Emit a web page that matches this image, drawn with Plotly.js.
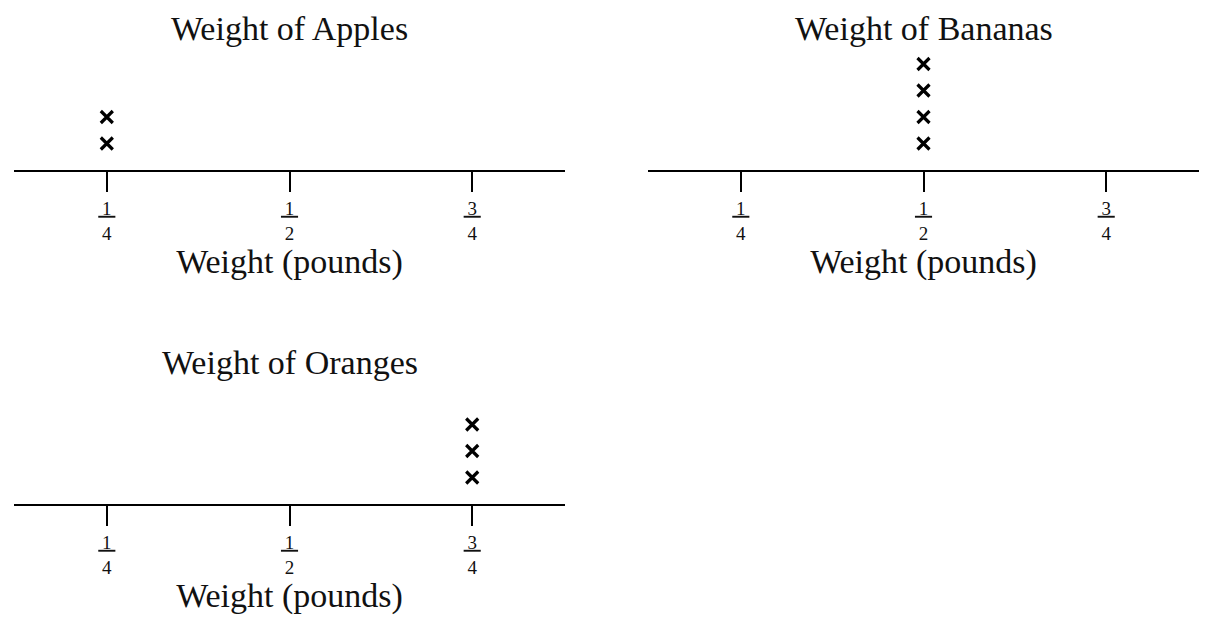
<!DOCTYPE html>
<html><head><meta charset="utf-8">
<script src="https://cdn.plot.ly/plotly-3.0.1.min.js"></script>
<style>html,body{margin:0;padding:0;background:#fff}#chart{width:1213px;height:626px}</style>
</head><body><div id="chart"></div>
<script>
// ---- data ----
const plotTitles = ['Weight of Apples', 'Weight of Bananas', 'Weight of Oranges'];
const appleWeights = [0.25, 0.25];
const bananaWeights = [0.5, 0.5, 0.5, 0.5];
const orangeWeights = [0.75, 0.75, 0.75];
const tickValues = [0.25, 0.5, 0.75];
const tickNumerators = ['1', '1', '3'];
const tickDenominators = ['4', '2', '4'];
const axisTitle = 'Weight (pounds)';

// ---- presentation ----
const W = 1213, H = 626;
const FONT = 'Liberation Serif, Times New Roman, serif';
const tickText = tickNumerators.map((n, i) =>
  '<span style="text-decoration:underline;text-decoration-thickness:2px;text-underline-offset:3px">&#8201;' + n + '&#8201;</span><br>' + tickDenominators[i]);

// stack repeated values as a dot plot: y = occurrence count
function stack(values) {
  const seen = {};
  return values.map(v => { seen[v] = (seen[v] || 0) + 1; return seen[v]; });
}

const series = [appleWeights, bananaWeights, orangeWeights];
const traces = series.map((vals, i) => ({
  type: 'scatter', mode: 'markers',
  x: vals, y: stack(vals),
  xaxis: i === 0 ? 'x' : 'x' + (i + 1),
  yaxis: i === 0 ? 'y' : 'y' + (i + 1),
  marker: { symbol: 'x-thin', size: 12, color: '#000', line: { width: 3.2, color: '#000' } },
  hoverinfo: 'x+y', showlegend: false
}));

const px = p => p / W;
const py = p => 1 - p / H;
// panel pixel boxes: [left, right, top, axisY]
const panels = [[14, 565, 50, 170], [648, 1199, 50, 170], [14, 565, 384, 504]];

function xaxisDef(b, anchor) {
  return {
    domain: [px(b[0]), px(b[1])], anchor: anchor,
    range: [0.123, 0.877],
    tickmode: 'array', tickvals: tickValues, ticktext: tickText,
    ticks: 'outside', ticklen: 20, tickwidth: 2, tickcolor: '#000',
    showline: true, linewidth: 2, linecolor: '#000',
    showgrid: false, zeroline: false,
    tickfont: { family: FONT, size: 19, color: '#111' },
    title: { text: axisTitle, font: { family: FONT, size: 34, color: '#111' }, standoff: 0 },
    automargin: true, fixedrange: true
  };
}
function yaxisDef(b, anchor) {
  return {
    domain: [py(b[3]), py(b[2])], anchor: anchor,
    range: [0, (b[3] - b[2]) / 26.5],
    visible: false, showgrid: false, zeroline: false, fixedrange: true
  };
}

const layout = {
  width: W, height: H,
  margin: { l: 0, r: 0, t: 0, b: 0 },
  paper_bgcolor: '#fff', plot_bgcolor: '#fff',
  xaxis: xaxisDef(panels[0], 'y'), yaxis: yaxisDef(panels[0], 'x'),
  xaxis2: xaxisDef(panels[1], 'y2'), yaxis2: yaxisDef(panels[1], 'x2'),
  xaxis3: xaxisDef(panels[2], 'y3'), yaxis3: yaxisDef(panels[2], 'x3'),
  annotations: plotTitles.map((t, i) => ({
    text: t, xref: 'paper', yref: 'paper',
    x: px((panels[i][0] + panels[i][1]) / 2), y: py(panels[i][3] - 142),
    xanchor: 'center', yanchor: 'middle', showarrow: false,
    font: { family: FONT, size: 34, color: '#111' }
  })),
  showlegend: false
};

Plotly.newPlot('chart', traces, layout, { displayModeBar: false, staticPlot: false });
</script></body></html>
